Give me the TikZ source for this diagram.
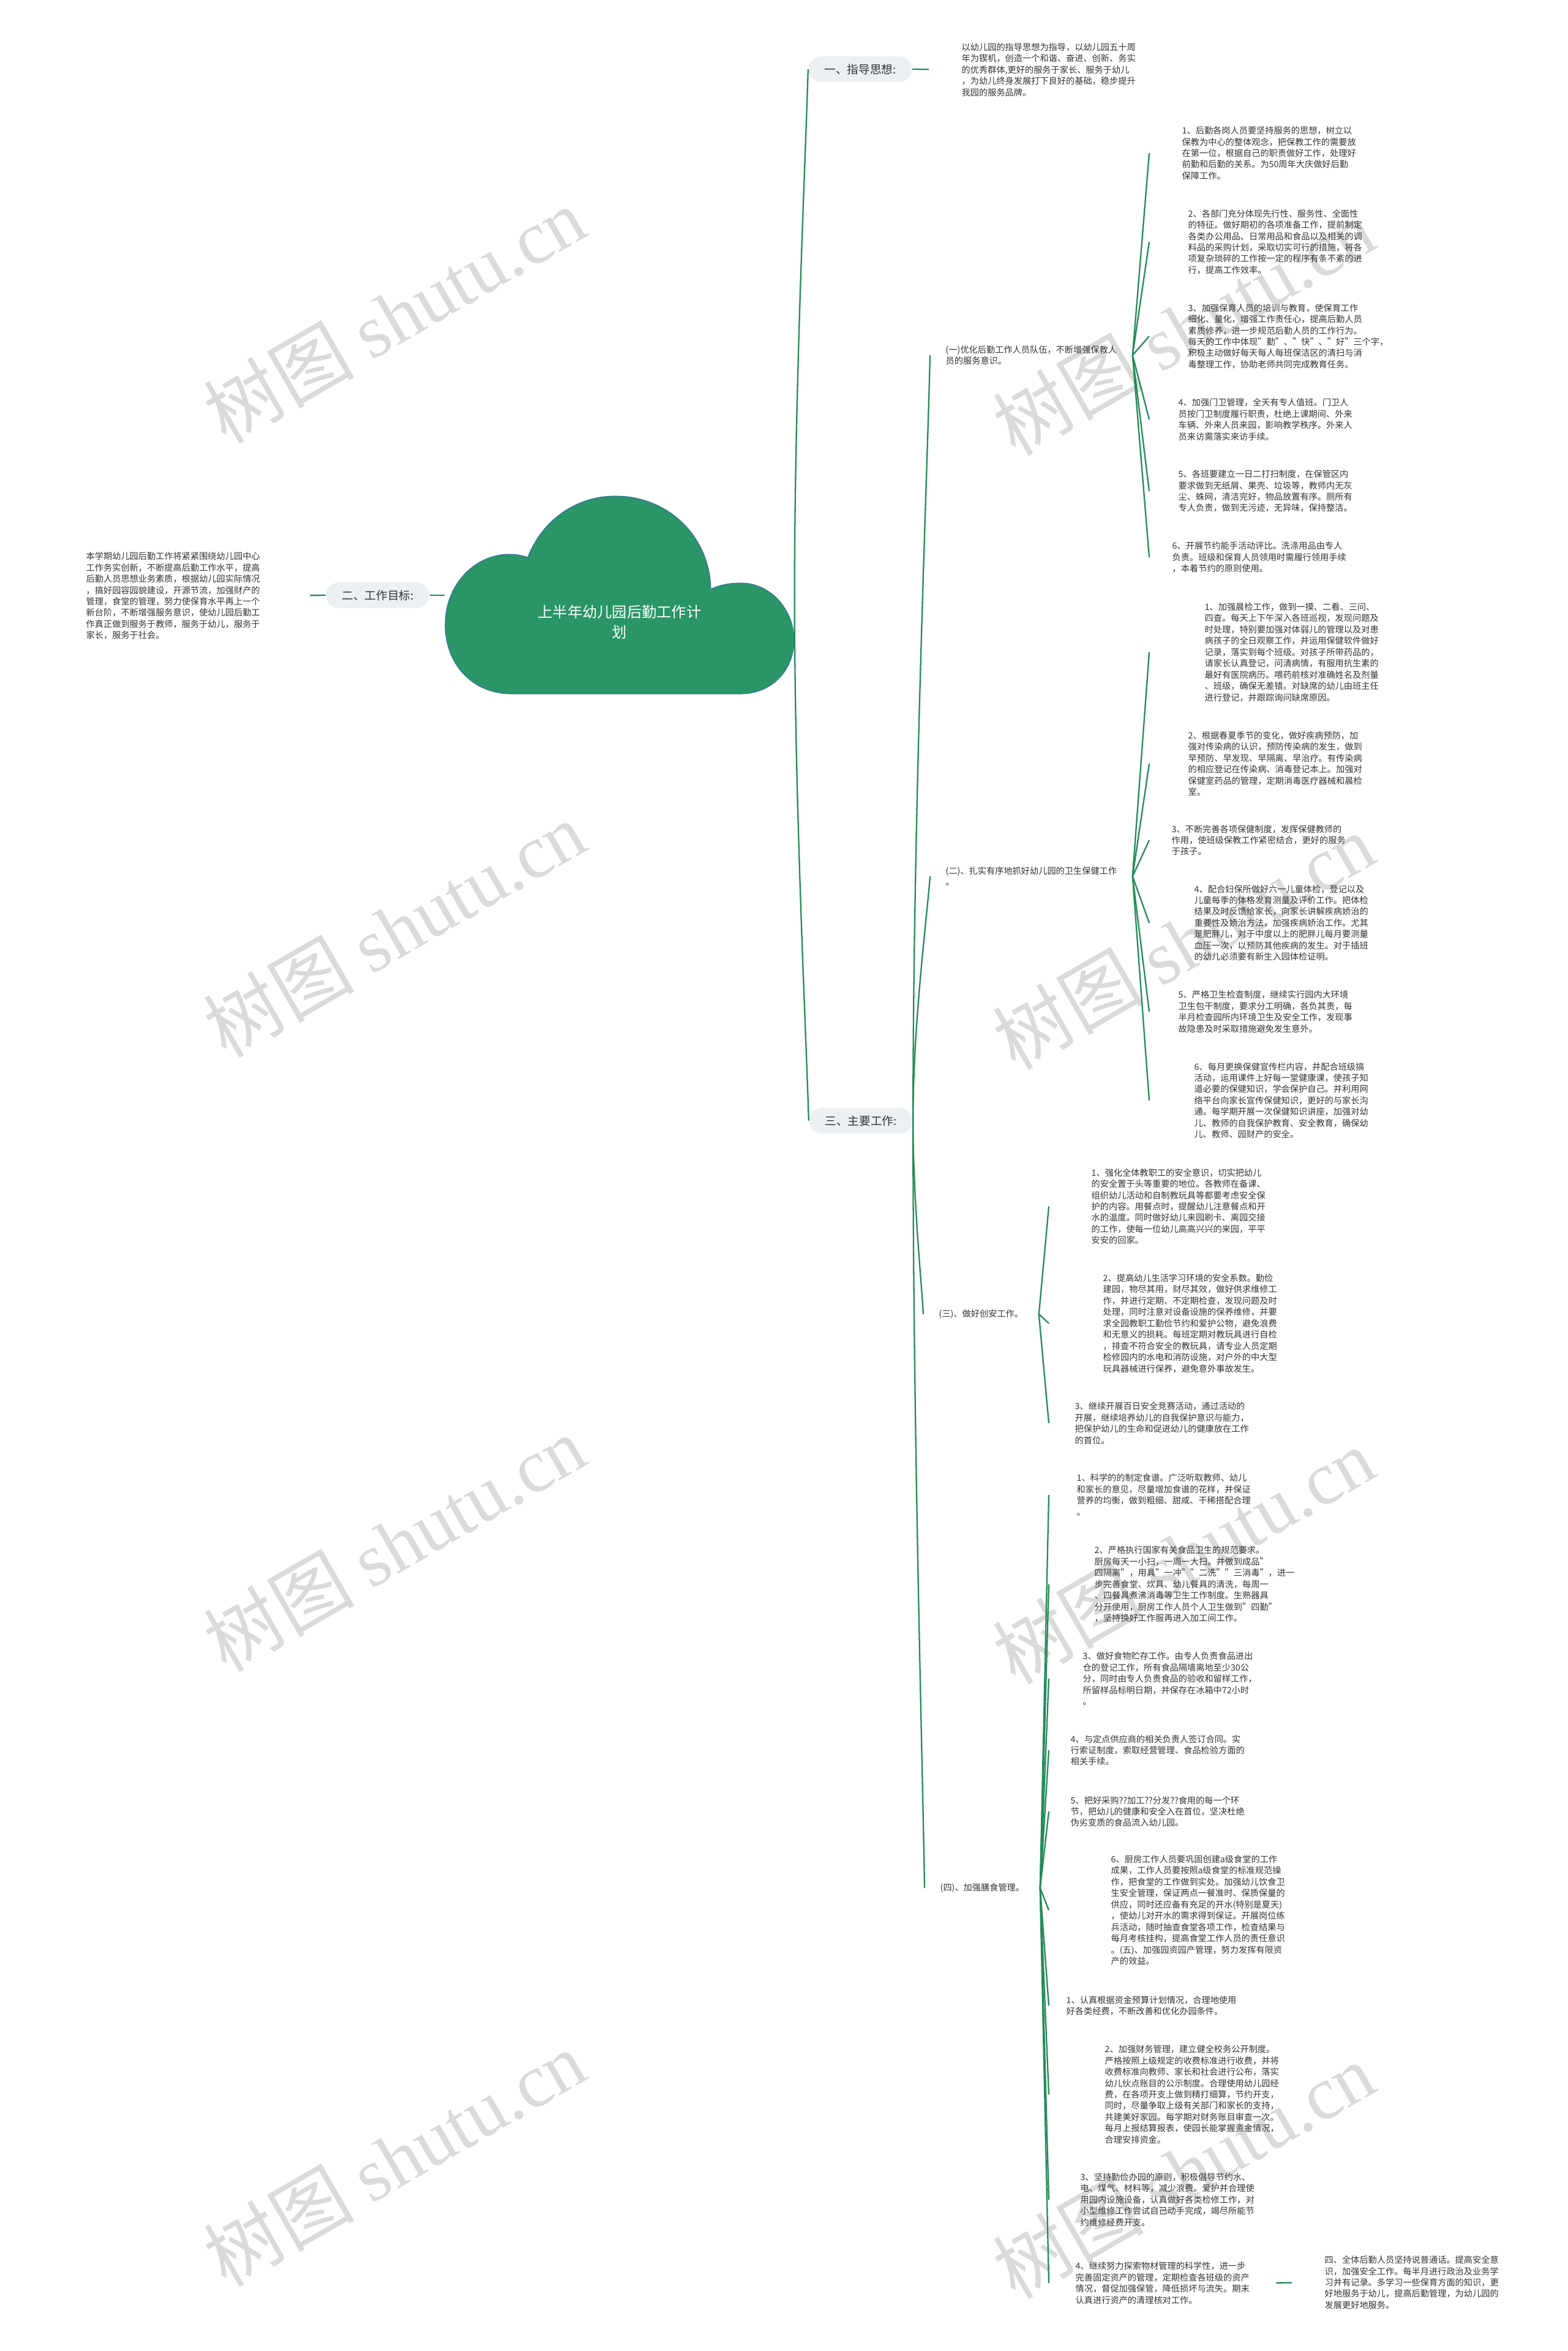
\documentclass[tikz,border=0pt]{standalone}
\usepackage{fontspec}
\setmainfont{Noto Sans CJK SC}
\newfontfamily\wmserif{Liberation Serif}
\usetikzlibrary{calc}

\definecolor{lnkgreen}{RGB}{36,138,88}
\definecolor{cloudgreen}{RGB}{42,149,102}
\definecolor{cloudedge}{RGB}{60,110,170}
\definecolor{topicbg}{RGB}{236,240,243}
\definecolor{txtgray}{RGB}{51,51,51}
\definecolor{wmgray}{RGB}{218,218,218}

\tikzset{
  conn/.style={draw=lnkgreen,line width=0.65pt},
  topic/.style={fill=topicbg,text=txtgray,rounded corners=0.21cm,minimum width=1.69cm,minimum height=0.42cm,inner sep=0pt,font=\fontsize{5.3}{6}\selectfont},
  sub/.style={anchor=west,align=left,inner xsep=0.25cm,inner ysep=0pt,text=txtgray,font=\fontsize{4.04}{5.25}\selectfont},
  item/.style={anchor=west,align=left,inner sep=0pt,text=txtgray,font=\fontsize{4.04}{5.25}\selectfont},
  wm/.style={text=wmgray,rotate=30,font=\fontsize{35}{35}\selectfont},
}
\newcommand\lnk[2]{\draw[conn] (#1) .. controls ($(#1)!.4!(#1 |- #2)$) and ($(#1)!.85!(#2)$) .. (#2);}

\begin{document}
\begin{tikzpicture}
\useasboundingbox (0,0) rectangle (25.6,-38.39);
% 水印
\foreach \y [count=\k] in {5.14,15.17,25.20,35.24}{
  \node[wm] (wmL\k) at (6.44,-\y) {树图 {\wmserif shutu.cn}};
  \node[wm] (wmR\k) at (19.33,-\y-0.2) {树图 {\wmserif shutu.cn}};
}
% 中心云
\fill[cloudgreen,draw=cloudedge,line width=0.3pt]
  (8.35,-11.33) .. controls (7.72,-11.33) and (7.27,-10.85) .. (7.27,-10.2)
  .. controls (7.27,-9.55) and (7.75,-9.05) .. (8.32,-9.05)
  .. controls (8.43,-9.05) and (8.53,-9.07) .. (8.62,-9.1)
  .. controls (8.85,-8.5) and (9.4,-8.1) .. (10.05,-8.1)
  .. controls (10.95,-8.1) and (11.6,-8.8) .. (11.61,-9.62)
  .. controls (11.75,-9.55) and (11.92,-9.52) .. (12.1,-9.52)
  .. controls (12.6,-9.52) and (12.97,-9.97) .. (12.97,-10.45)
  .. controls (12.97,-10.95) and (12.6,-11.33) .. (12.1,-11.33)
  -- cycle;
\node[minimum width=5.7cm,minimum height=3.23cm,inner sep=0pt] (root) at (10.12,-9.72) {};
\node[text=white,align=center,font=\fontsize{6.9}{9.4}\selectfont] (title) at (10.12,-10.16) {上半年幼儿园后勤工作计\\划};

% 一级
\node[topic] (b1) at (14.05,-1.13) {一、指导思想:};
\node[topic] (b2) at (6.17,-9.72) {二、工作目标:};
\node[topic] (b3) at (14.06,-18.30) {三、主要工作:};
\lnk{root.east}{b1.west}
\lnk{root.east}{b3.west}
\draw[conn] (root.west) -- (b2.east);

\node[item] (t1) at (15.70,-1.14) {以幼儿园的指导思想为指导，以幼儿园五十周\\年为锲机，创造一个和谐、奋进、创新、务实\\的优秀群体,更好的服务于家长、服务于幼儿\\，为幼儿终身发展打下良好的基础，稳步提升\\我园的服务品牌。};
\draw[conn,shorten >=0.53cm] (b1.east) -- (t1.west);
\node[item] (t2) at (1.40,-9.73) {本学期幼儿园后勤工作将紧紧围绕幼儿园中心\\工作务实创新，不断提高后勤工作水平，提高\\后勤人员思想业务素质，根据幼儿园实际情况\\，搞好园容园貌建设，开源节流，加强财产的\\管理，食堂的管理，努力使保育水平再上一个\\新台阶，不断增强服务意识，使幼儿园后勤工\\作真正做到服务于教师，服务于幼儿，服务于\\家长，服务于社会。};
\draw[conn,shorten >=0.81cm] (b2.west) -- (t2.east);

% 二级
\node[sub] (g1) at (15.19,-5.80) {(一)优化后勤工作人员队伍，不断增强保教人\\员的服务意识。};
\node[sub] (g2) at (15.19,-14.31) {(二)、扎实有序地抓好幼儿园的卫生保健工作\\。};
\node[sub] (g3) at (15.08,-21.46) {(三)、做好创安工作。};
\node[sub] (g4) at (15.10,-30.83) {(四)、加强膳食管理。};
\foreach \i in {1,...,4} {\lnk{b3.east}{g\i.west}}
\coordinate (k1) at (18.77,0);
\coordinate (k2) at (17.13,0);

% (一)
\node[item] (a1) at (19.30,-2.50) {1、后勤各岗人员要坚持服务的思想，树立以\\保教为中心的整体观念，把保教工作的需要放\\在第一位，根据自己的职责做好工作，处理好\\前勤和后勤的关系。为50周年大庆做好后勤\\保障工作。};
\node[item] (a2) at (19.40,-3.95) {2、各部门充分体现先行性、服务性、全面性\\的特征。做好期初的各项准备工作，提前制定\\各类办公用品、日常用品和食品以及相关的调\\料品的采购计划，采取切实可行的措施，将各\\项复杂琐碎的工作按一定的程序有条不紊的进\\行，提高工作效率。};
\node[item] (a3) at (19.40,-5.49) {3、加强保育人员的培训与教育，使保育工作\\细化、量化，增强工作责任心，提高后勤人员\\素质修养，进一步规范后勤人员的工作行为。\\每天的工作中体现"勤"、"快"、"好"三个字，\\积极主动做好每天每人每班保洁区的清扫与消\\毒整理工作，协助老师共同完成教育任务。};
\node[item] (a4) at (19.24,-6.85) {4、加强门卫管理，全天有专人值班。门卫人\\员按门卫制度履行职责，杜绝上课期间、外来\\车辆、外来人员来园，影响教学秩序。外来人\\员来访需落实来访手续。};
\node[item] (a5) at (19.24,-8.02) {5、各班要建立一日二打扫制度，在保管区内\\要求做到无纸屑、果壳、垃圾等，教师内无灰\\尘、蛛网，清洁完好，物品放置有序。厕所有\\专人负责，做到无污迹，无异味，保持整洁。};
\node[item] (a6) at (19.14,-9.10) {6、开展节约能手活动评比。洗涤用品由专人\\负责。班级和保育人员领用时需履行领用手续\\，本着节约的原则使用。};
\foreach \i in {1,...,6} {\lnk{g1.east}{a\i.west -| k1}}

% (二)
\node[item] (c1) at (19.67,-10.65) {1、加强晨检工作，做到一摸、二看、三问、\\四查。每天上下午深入各班巡视，发现问题及\\时处理，特别要加强对体弱儿的管理以及对患\\病孩子的全日观察工作，并运用保健软件做好\\记录，落实到每个班级。对孩子所带药品的，\\请家长认真登记，问清病情，有服用抗生素的\\最好有医院病历。喂药前核对准确姓名及剂量\\、班级，确保无差错。对缺席的幼儿由班主任\\进行登记，并跟踪询问缺席原因。};
\node[item] (c2) at (19.40,-12.47) {2、根据春夏季节的变化，做好疾病预防，加\\强对传染病的认识，预防传染病的发生，做到\\早预防、早发现、早隔离、早治疗。有传染病\\的相应登记在传染病、消毒登记本上。加强对\\保健室药品的管理，定期消毒医疗器械和晨检\\室。};
\node[item] (c3) at (19.13,-13.72) {3、不断完善各项保健制度，发挥保健教师的\\作用，使班级保教工作紧密结合，更好的服务\\于孩子。};
\node[item] (c4) at (19.50,-15.07) {4、配合妇保所做好六一儿童体检，登记以及\\儿童每季的体格发育测量及评价工作。把体检\\结果及时反馈给家长，向家长讲解疾病娇治的\\重要性及娇治方法，加强疾病娇治工作。尤其\\是肥胖儿，对于中度以上的肥胖儿每月要测量\\血压一次，以预防其他疾病的发生。对于插班\\的幼儿必须要有新生入园体检证明。};
\node[item] (c5) at (19.24,-16.52) {5、严格卫生检查制度，继续实行园内大环境\\卫生包干制度，要求分工明确，各负其责，每\\半月检查园所内环境卫生及安全工作，发现事\\故隐患及时采取措施避免发生意外。};
\node[item] (c6) at (19.50,-17.97) {6、每月更换保健宣传栏内容，并配合班级搞\\活动，运用课件上好每一堂健康课，使孩子知\\道必要的保健知识，学会保护自己。并利用网\\络平台向家长宣传保健知识，更好的与家长沟\\通。每学期开展一次保健知识讲座，加强对幼\\儿、教师的自我保护教育、安全教育，确保幼\\儿、教师、园财产的安全。};
\foreach \i in {1,...,6} {\lnk{g2.east}{c\i.west -| k1}}

% (三)
\node[item] (d1) at (17.82,-19.70) {1、强化全体教职工的安全意识，切实把幼儿\\的安全置于头等重要的地位。各教师在备课、\\组织幼儿活动和自制教玩具等都要考虑安全保\\护的内容。用餐点时，提醒幼儿注意餐点和开\\水的温度。同时做好幼儿来园刷卡、离园交接\\的工作，使每一位幼儿高高兴兴的来园，平平\\安安的回家。};
\node[item] (d2) at (18.01,-21.61) {2、提高幼儿生活学习环境的安全系数。勤俭\\建园，物尽其用，财尽其效，做好供求维修工\\作，并进行定期、不定期检查，发现问题及时\\处理，同时注意对设备设施的保养维修，并要\\求全园教职工勤俭节约和爱护公物，避免浪费\\和无意义的损耗。每班定期对教玩具进行自检\\，排查不符合安全的教玩具，请专业人员定期\\检修园内的水电和消防设施，对户外的中大型\\玩具器械进行保养，避免意外事故发生。};
\node[item] (d3) at (17.55,-23.24) {3、继续开展百日安全竞赛活动，通过活动的\\开展，继续培养幼儿的自我保护意识与能力，\\把保护幼儿的生命和促进幼儿的健康放在工作\\的首位。};
\foreach \i in {1,...,3} {\lnk{g3.east}{d\i.west -| k2}}

% (四)
\node[item] (e1) at (17.58,-24.41) {1、科学的的制定食谱。广泛听取教师、幼儿\\和家长的意见，尽量增加食谱的花样，并保证\\营养的均衡，做到粗细、甜咸、干稀搭配合理\\。};
\node[item] (e2) at (17.87,-25.87) {2、严格执行国家有关食品卫生的规范要求。\\厨房每天一小扫，一周一大扫。并做到成品"\\四隔离"，用具"一冲""二洗""三消毒"，进一\\步完善食堂、炊具、幼儿餐具的清洗，每周一\\、四餐具煮沸消毒等卫生工作制度。生熟器具\\分开使用，厨房工作人员个人卫生做到"四勤"\\，坚持换好工作服再进入加工间工作。};
\node[item] (e3) at (17.68,-27.41) {3、做好食物贮存工作。由专人负责食品进出\\仓的登记工作，所有食品隔墙离地至少30公\\分，同时由专人负责食品的验收和留样工作，\\所留样品标明日期，并保存在冰箱中72小时\\。};
\node[item] (e4) at (17.48,-28.58) {4、与定点供应商的相关负责人签订合同。实\\行索证制度，索取经营管理、食品检验方面的\\相关手续。};
\node[item] (e5) at (17.48,-29.58) {5、把好采购??加工??分发??食用的每一个环\\节，把幼儿的健康和安全入在首位，坚决杜绝\\伪劣变质的食品流入幼儿园。};
\node[item] (e6) at (18.14,-31.19) {6、厨房工作人员要巩固创建a级食堂的工作\\成果，工作人员要按照a级食堂的标准规范操\\作，把食堂的工作做到实处。加强幼儿饮食卫\\生安全管理，保证两点一餐准时、保质保量的\\供应，同时还应备有充足的开水(特别是夏天)\\，使幼儿对开水的需求得到保证。开展岗位练\\兵活动，随时抽查食堂各项工作，检查结果与\\每月考核挂构，提高食堂工作人员的责任意识\\。(五)、加强园资园产管理，努力发挥有限资\\产的效益。};
\node[item] (e7) at (17.41,-32.75) {1、认真根据资金预算计划情况，合理地使用\\好各类经费，不断改善和优化办园条件。};
\node[item] (e8) at (18.04,-34.20) {2、加强财务管理，建立健全校务公开制度。\\严格按照上级规定的收费标准进行收费，并将\\收费标准向教师、家长和社会进行公布，落实\\幼儿伙点账目的公示制度。合理使用幼儿园经\\费，在各项开支上做到精打细算，节约开支，\\同时，尽量争取上级有关部门和家长的支持，\\共建美好家园。每学期对财务账目审查一次。\\每月上报结算报表，使园长能掌握资金情况，\\合理安排资金。};
\node[item] (e9) at (17.64,-35.92) {3、坚持勤俭办园的原则，积极倡导节约水、\\电、煤气、材料等，减少浪费。爱护并合理使\\用园内设施设备，认真做好各类检修工作，对\\小型维修工作尝试自己动手完成，竭尽所能节\\约维修经费开支。};
\node[item] (e10) at (17.56,-37.28) {4、继续努力探索物材管理的科学性，进一步\\完善固定资产的管理，定期检查各班级的资产\\情况，督促加强保管，降低损坏与流失。期末\\认真进行资产的清理核对工作。};
\foreach \i in {1,...,10} {\lnk{g4.east}{e\i.west -| k2}}

\node[item] (f1) at (21.63,-37.27) {四、全体后勤人员坚持说普通话。提高安全意\\识，加强安全工作。每半月进行政治及业务学\\习并有记录。多学习一些保育方面的知识，更\\好地服务于幼儿，提高后勤管理，为幼儿园的\\发展更好地服务。};
\draw[conn,shorten <=0.43cm,shorten >=0.53cm] (e10.east) -- (f1.west);
\end{tikzpicture}
\end{document}
